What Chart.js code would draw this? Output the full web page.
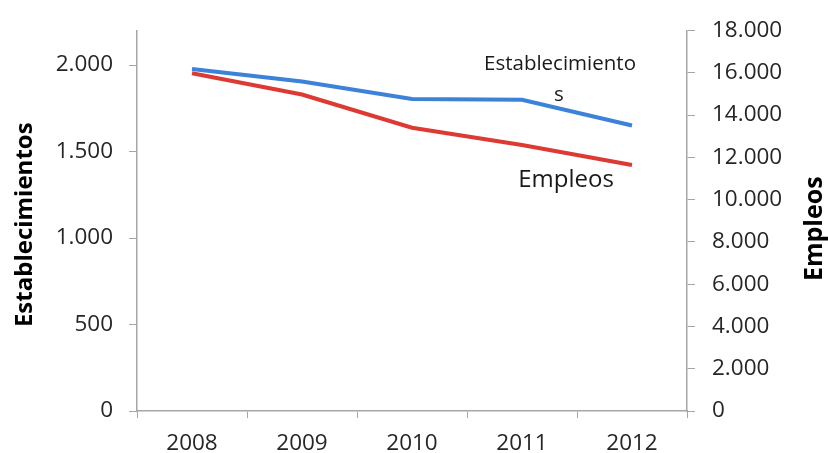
<!DOCTYPE html>
<html>
<head>
<meta charset="utf-8">
<script src="https://cdn.jsdelivr.net/npm/chart.js@4.4.0/dist/chart.umd.min.js"></script>
<style>
  html, body { margin: 0; padding: 0; background: #fff; }
  #wrap { width: 828px; height: 453px; }
</style>
</head>
<body>
<div id="wrap"><canvas id="grafico"></canvas></div>
<script>
// datos
const anios = ["2008", "2009", "2010", "2011", "2012"];
const establecimientos = [1978, 1905, 1804, 1800, 1651];
const empleos = [15980, 14970, 13400, 12580, 11640];
const ticksEstab = [0, 500, 1000, 1500, 2000];
const ticksEmpleos = [0, 2000, 4000, 6000, 8000, 10000, 12000, 14000, 16000, 18000];

const FUENTE = "'Open Sans', 'Liberation Sans', sans-serif";
const GRIS_EJE = "#a6a6a6";

function miles(v) {
  return String(v).replace(/\B(?=(\d{3})+(?!\d))/g, ".");
}

// titulos de ejes y etiquetas de series
const textosExtra = {
  id: "textosExtra",
  afterDraw(chart) {
    const ctx = chart.ctx;
    const a = chart.chartArea;
    const midY = (a.top + a.bottom) / 2 + 4;
    ctx.save();
    ctx.fillStyle = "#000";
    ctx.textAlign = "center";
    ctx.textBaseline = "middle";
    ctx.font = "bold 24px " + FUENTE;
    ctx.translate(25, midY);
    ctx.rotate(-Math.PI / 2);
    ctx.fillText("Establecimientos", 0, 0);
    ctx.restore();

    ctx.save();
    ctx.fillStyle = "#000";
    ctx.textAlign = "center";
    ctx.textBaseline = "middle";
    ctx.font = "bold 25px " + FUENTE;
    ctx.translate(815, midY + 4);
    ctx.rotate(-Math.PI / 2);
    ctx.fillText("Empleos", 0, 0);
    ctx.restore();

    // etiquetas junto a las lineas
    ctx.save();
    ctx.fillStyle = "#1a1a1a";
    ctx.textAlign = "center";
    ctx.textBaseline = "middle";
    ctx.font = "20.5px " + FUENTE;
    ctx.fillText("Establecimiento", 560, 64);
    ctx.fillText("s", 559, 95);
    ctx.font = "24px " + FUENTE;
    ctx.fillText("Empleos", 566, 180);
    ctx.restore();
  }
};

document.addEventListener("DOMContentLoaded", function () {
  const el = document.getElementById("grafico");
  new Chart(el, {
    type: "line",
    data: {
      labels: anios,
      datasets: [
        {
          label: "Establecimientos",
          data: establecimientos,
          yAxisID: "yEst",
          borderColor: "#3b82d8",
          borderWidth: 4,
          pointRadius: 0,
          tension: 0,
          order: 1
        },
        {
          label: "Empleos",
          data: empleos,
          yAxisID: "yEmp",
          borderColor: "#dc3a32",
          borderWidth: 4,
          pointRadius: 0,
          tension: 0,
          order: 2
        }
      ]
    },
    options: {
      responsive: true,
      maintainAspectRatio: false,
      animation: false,
      layout: { padding: { top: 27, left: 0, right: 0, bottom: 0 } },
      plugins: {
        legend: { display: false },
        tooltip: { enabled: false }
      },
      scales: {
        x: {
          offset: true,
          grid: {
            offset: true,
            drawOnChartArea: false,
            drawTicks: true,
            tickLength: 7,
            color: GRIS_EJE
          },
          border: { display: true, color: GRIS_EJE, width: 1.5 },
          ticks: {
            color: "#262626",
            font: { family: FUENTE, size: 22.5 },
            padding: 12,
            maxRotation: 0
          },
          afterFit(scale) { scale.height = 42; }
        },
        yEst: {
          position: "left",
          min: 0,
          max: 2200,
          afterBuildTicks(scale) {
            scale.ticks = ticksEstab.map(v => ({ value: v }));
          },
          grid: {
            drawOnChartArea: false,
            tickLength: 8,
            color: GRIS_EJE
          },
          border: { display: true, color: GRIS_EJE, width: 1.5 },
          ticks: {
            color: "#262626",
            font: { family: FUENTE, size: 22.5 },
            padding: 16,
            callback: v => miles(v)
          },
          afterFit(scale) { scale.width = 137; }
        },
        yEmp: {
          position: "right",
          min: 0,
          max: 18000,
          afterBuildTicks(scale) {
            scale.ticks = ticksEmpleos.map(v => ({ value: v }));
          },
          grid: {
            drawOnChartArea: false,
            tickLength: 8,
            color: GRIS_EJE
          },
          border: { display: true, color: GRIS_EJE, width: 1.5 },
          ticks: {
            color: "#262626",
            font: { family: FUENTE, size: 22.5 },
            padding: 17,
            callback: v => miles(v)
          },
          afterFit(scale) { scale.width = 141; }
        }
      }
    },
    plugins: [textosExtra]
  });
});
</script>
</body>
</html>
